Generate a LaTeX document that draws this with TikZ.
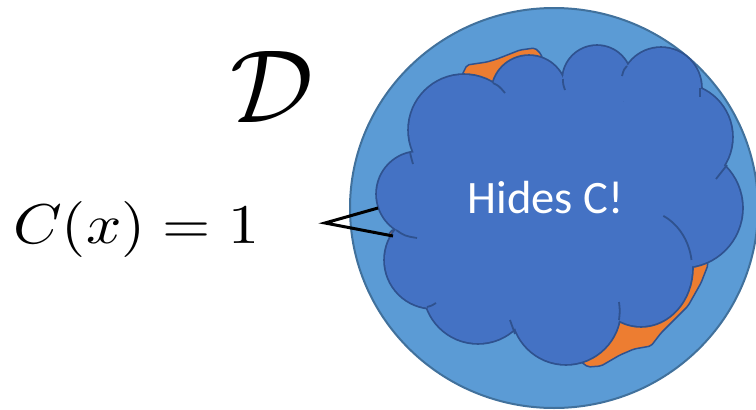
\documentclass[tikz,border=0pt]{standalone}
\usepackage{fontspec}
\newfontfamily\carlito{Carlito}
\definecolor{ringfill}{HTML}{5B9BD5}
\definecolor{ringline}{HTML}{41719C}
\definecolor{cloudfill}{HTML}{4472C4}
\definecolor{cloudline}{HTML}{2F528F}
\definecolor{blobfill}{HTML}{ED7D31}
\begin{document}
\begin{tikzpicture}[x=1pt,y=-1pt,
  puffline/.style={draw=cloudline, line width=3.6pt},
  pufffill/.style={fill=cloudfill},
  arcline/.style={draw=cloudline, line width=1.8pt},
  connector/.style={draw=black, line width=3pt}]
\clip (0,0) rectangle (756,410);
\fill[white] (0,0) rectangle (756,410);
% big disc
\draw[fill=ringfill, draw=ringline, line width=2pt] (554,208) ellipse [x radius=204, y radius=200];
% orange blob (mostly hidden)
\draw[fill=blobfill, draw=cloudline, line width=1.5pt, rounded corners=2pt]
  (466,100) -- (461,77) -- (467,65) -- (487,62) -- (497,59) -- (520,50) -- (535,48) -- (541,54)
  -- (546,70) -- (620,150) -- (695,240) -- (707,258) -- (708,265) -- (701,283) -- (688,306)
  -- (674,320) -- (661,333) -- (651,346) -- (634,349) -- (620,355) -- (601,366) -- (588,367)
  -- (580,361) -- (570,345) -- (500,260) -- (420,232) -- (393,229) -- (388,235) -- (394,241)
  -- (420,243) -- cycle;
% cloud: outlines, then fills
\foreach \cx/\cy/\ra/\rb in {464/130/55/55, 529/93/37/37, 597/80/34/34, 661/88/40/40,
  679/137/53/53, 683/208/59/59, 641/268/51/58, 566/310/54/54, 478/289/54/54,
  433/260/48/48, 419/194/42/42}
  \draw[puffline] (\cx,\cy) ellipse [x radius=\ra, y radius=\rb];
\foreach \cx/\cy/\ra/\rb in {464/130/55/55, 529/93/37/37, 597/80/34/34, 661/88/40/40,
  679/137/53/53, 683/208/59/59, 641/268/51/58, 566/310/54/54, 478/289/54/54,
  433/260/48/48, 419/194/42/42, 560/200/140/110}
  \fill[pufffill] (\cx,\cy) ellipse [x radius=\ra, y radius=\rb];
% inner arcs of the cloud
\draw[arcline] (410,152) .. controls (411,157) .. (413,164);
\draw[arcline] (493,83) .. controls (499,86) .. (505,93);
\draw[arcline] (563,79) .. controls (563,84) .. (565,90);
\draw[arcline] (627,66) .. controls (624,69) .. (622,76);
\draw[arcline] (700,88) .. controls (700,92) .. (700,97);
\draw[arcline] (727,165) .. controls (722,172) .. (716,179);
\draw[arcline] (641,268) ++(-64:51 and 58) arc [start angle=-64, end angle=-8, x radius=51, y radius=58];
\draw[arcline] (619,320) .. controls (620,311) .. (619,302);
\draw[arcline] (515,334) .. controls (512,327) .. (510,320);
\draw[arcline] (427,307) .. controls (431,306) .. (436,303);
\draw[arcline] (396,230) .. controls (405,236) .. (417,238);
% texts
\node[inner sep=0pt] (D) at (272,87) {\scalebox{10.4}{$\mathcal{D}$}};
\node[anchor=base west, inner sep=0pt] (Cx) at (13,243) {\scalebox{6.2}[5.6]{$C(x)=1$}};
\node[anchor=base, inner sep=0pt, text=white, font=\carlito\fontsize{46.5}{50}\selectfont] (hides) at (545.5,213) {Hides C!};
% connector
\coordinate (apex) at (325,223);
\coordinate (tipA) at (378,208);
\coordinate (tipB) at (393,236);
\draw[connector] (tipA) -- (apex) -- (tipB);
\end{tikzpicture}
\end{document}
